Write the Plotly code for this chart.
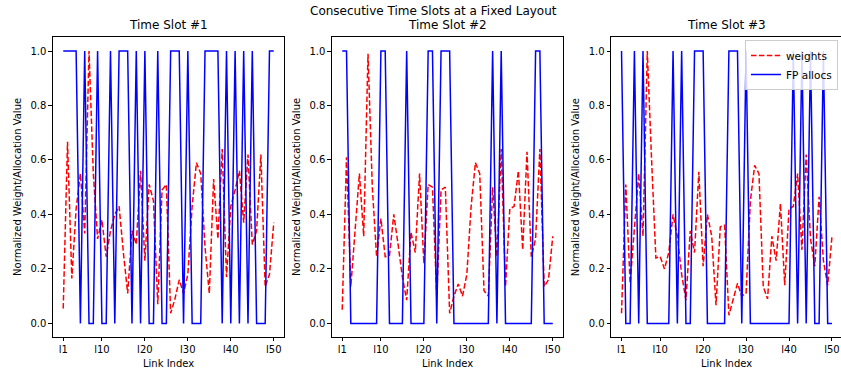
import plotly.graph_objects as go

W, H = 841, 373

link_labels = ["l1", "l10", "l20", "l30", "l40", "l50"]
link_tick_idx = [0, 9, 19, 29, 39, 49]
n_links = 50
links = list(range(n_links))

weights_1 = [0.055, 0.667, 0.165, 0.42, 0.55, 0.33, 1.0, 0.55, 0.31, 0.38,
             0.245, 0.34, 0.40, 0.43, 0.26, 0.11, 0.34, 0.29, 0.56, 0.23,
             0.51, 0.45, 0.07, 0.49, 0.51, 0.037, 0.09, 0.16, 0.11, 0.18,
             0.43, 0.59, 0.55, 0.28, 0.11, 0.53, 0.31, 0.64, 0.17, 0.43,
             0.49, 0.56, 0.37, 0.62, 0.29, 0.34, 0.62, 0.135, 0.18, 0.37]
allocs_1 = [1, 1, 1, 1, 0, 1, 0, 0, 1, 0,
            0, 1, 0, 1, 1, 1, 0, 1, 0, 1,
            0, 0, 1, 0, 0, 1, 1, 1, 0, 1,
            0, 0, 0, 1, 1, 1, 1, 0, 1, 0,
            1, 0, 1, 0, 1, 0, 0, 0, 1, 1]

weights_2 = [0.05, 0.61, 0.135, 0.33, 0.55, 0.32, 0.99, 0.5, 0.245, 0.385,
             0.245, 0.25, 0.40, 0.29, 0.17, 0.085, 0.335, 0.26, 0.55, 0.22,
             0.51, 0.50, 0.10, 0.49, 0.50, 0.037, 0.10, 0.145, 0.10, 0.18,
             0.43, 0.59, 0.55, 0.12, 0.10, 0.50, 0.245, 0.64, 0.135, 0.42,
             0.43, 0.56, 0.27, 0.63, 0.245, 0.31, 0.64, 0.135, 0.16, 0.32]
allocs_2 = [1, 1, 0, 0, 0, 0, 0, 0, 0, 1,
            1, 0, 0, 0, 0, 1, 0, 0, 0, 0,
            1, 1, 0, 1, 1, 1, 0, 0, 0, 0,
            0, 0, 0, 0, 0, 1, 0, 1, 0, 0,
            0, 0, 0, 0, 0, 1, 1, 0, 0, 0]

weights_3 = [0.037, 0.51, 0.147, 0.35, 0.55, 0.32, 1.0, 0.6, 0.24, 0.245,
             0.2, 0.26, 0.40, 0.32, 0.18, 0.085, 0.34, 0.26, 0.557, 0.21,
             0.40, 0.32, 0.067, 0.355, 0.36, 0.03, 0.09, 0.147, 0.1, 0.11,
             0.45, 0.58, 0.55, 0.135, 0.09, 0.32, 0.23, 0.44, 0.14, 0.42,
             0.43, 0.55, 0.27, 0.62, 0.31, 0.21, 0.465, 0.23, 0.14, 0.32]
allocs_3 = [1, 0, 0, 1, 0, 1, 0, 0, 0, 0,
            0, 0, 1, 0, 1, 0, 0, 1, 1, 1,
            0, 0, 0, 0, 0, 1, 1, 1, 0, 1,
            0, 0, 0, 0, 0, 0, 0, 0, 0, 0,
            1, 0, 1, 0, 1, 0, 0, 1, 0, 0]

slot_titles = ["Time Slot #1", "Time Slot #2", "Time Slot #3"]
suptitle = "Consecutive Time Slots at a Fixed Layout"
x_title = "Link Index"
y_title = "Normalized Weight/Allocation Value"
y_ticks = [0.0, 0.2, 0.4, 0.6, 0.8, 1.0]

series = [(weights_1, allocs_1), (weights_2, allocs_2), (weights_3, allocs_3)]

# axes box positions in pixels
x_doms_px = [(52.7, 284.3), (331.7, 563.3), (611.0, 841.0)]
x_ranges = [[-2.45, 51.45], [-2.45, 51.45], [-2.45, 51.1]]
y_top_px, y_bot_px = 37.4, 337.0
ydom = [(H - y_bot_px) / H, (H - y_top_px) / H]

FONT = "DejaVu Sans, Verdana, sans-serif"
fig = go.Figure()

for k, (w, a) in enumerate(series):
    xa = "x" if k == 0 else f"x{k+1}"
    ya = "y" if k == 0 else f"y{k+1}"
    fig.add_trace(go.Scatter(
        x=links, y=w, mode="lines", name="weights",
        line=dict(color="#ff0000", width=1.5, dash="5.5px,2.4px"),
        xaxis=xa, yaxis=ya, showlegend=(k == 2), legendrank=1))
    fig.add_trace(go.Scatter(
        x=links, y=a, mode="lines", name="FP allocs",
        line=dict(color="#0000ff", width=1.5),
        xaxis=xa, yaxis=ya, showlegend=(k == 2), legendrank=2))

axis_common = dict(showline=True, mirror=True, linecolor="black", linewidth=0.8,
                   ticks="outside", ticklen=3.5, tickwidth=0.8, tickcolor="black",
                   showgrid=False, zeroline=False,
                   tickfont=dict(family=FONT, size=10, color="black"))

layout = dict(
    width=W, height=H, margin=dict(l=0, r=0, t=0, b=0),
    paper_bgcolor="white", plot_bgcolor="white",
    font=dict(family=FONT, size=10, color="black"),
    showlegend=True,
    legend=dict(x=838 / W, xanchor="right", y=(H - 40) / H, yanchor="top",
                bgcolor="rgba(255,255,255,0.85)", bordercolor="#cccccc", borderwidth=1,
                font=dict(family=FONT, size=10.5, color="black"),
                tracegroupgap=0, itemwidth=30),
)

annotations = []
for k in range(3):
    xk = "xaxis" if k == 0 else f"xaxis{k+1}"
    yk = "yaxis" if k == 0 else f"yaxis{k+1}"
    x0, x1 = x_doms_px[k]
    layout[xk] = dict(domain=[x0 / W, x1 / W], range=x_ranges[k],
                      tickvals=link_tick_idx, ticktext=link_labels,
                      anchor="y" if k == 0 else f"y{k+1}", **axis_common)
    layout[yk] = dict(domain=ydom, range=[-0.05, 1.05],
                      tickvals=y_ticks, ticktext=[f"{v:.1f}" for v in y_ticks],
                      anchor="x" if k == 0 else f"x{k+1}", **axis_common)
    cx = (x0 + x1) / 2 / W
    annotations.append(dict(text=slot_titles[k], x=cx, y=1 - 25 / H, xref="paper", yref="paper",
                            xanchor="center", yanchor="middle", showarrow=False,
                            font=dict(family=FONT, size=12, color="black")))
    annotations.append(dict(text=x_title, x=cx, y=1 - 363 / H, xref="paper", yref="paper",
                            xanchor="center", yanchor="middle", showarrow=False,
                            font=dict(family=FONT, size=10, color="black")))
    annotations.append(dict(text=y_title, x=(x0 - 36) / W, y=(ydom[0] + ydom[1]) / 2,
                            xref="paper", yref="paper", textangle=-90,
                            xanchor="center", yanchor="middle", showarrow=False,
                            font=dict(family=FONT, size=10, color="black")))

annotations.append(dict(text=suptitle, x=433.5 / W, y=1 - 11 / H, xref="paper", yref="paper",
                        xanchor="center", yanchor="middle", showarrow=False,
                        font=dict(family=FONT, size=12, color="black")))
layout["annotations"] = annotations

fig.update_layout(**layout)
fig.write_html("out.html")
